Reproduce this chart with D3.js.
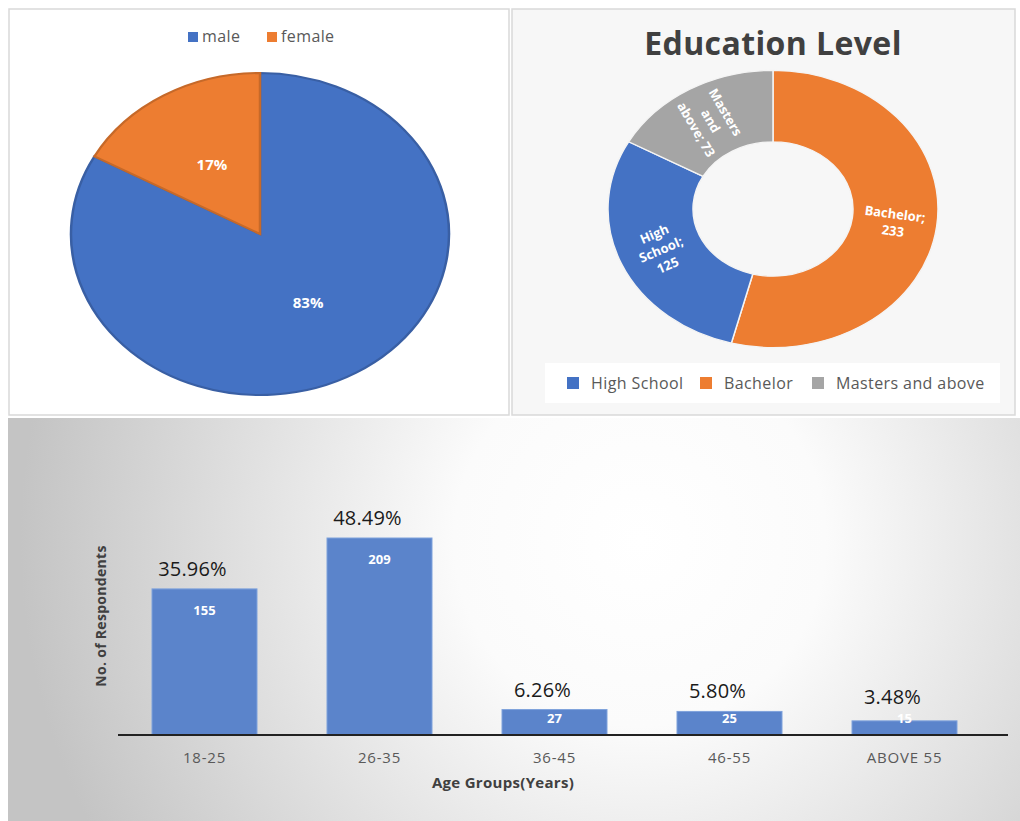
<!DOCTYPE html>
<html>
<head>
<meta charset="utf-8">
<script src="https://cdn.jsdelivr.net/npm/d3@7"></script>
<style>
  body { margin: 0; background: #fff; }
  text { font-family: "Open Sans", "Noto Sans", sans-serif; }
</style>
</head>
<body>
<div id="plot"></div>
<script>
// gender split
var genderLabels = ["male", "female"];
var genderValues = [83, 17];
var genderColors = ["#4472C4", "#ED7D31"];

// education level
var eduLabels = ["High School", "Bachelor", "Masters and above"];
var eduValues = [125, 233, 73];
var eduColors = ["#4472C4", "#ED7D31", "#A5A5A5"];
// clockwise from 12 o'clock as drawn in the source
var eduDrawOrder = [1, 0, 2];

// age groups
var ageGroups = ["18-25", "26-35", "36-45", "46-55", "ABOVE 55"];
var ageCounts = [155, 209, 27, 25, 15];
var agePercents = ["35.96%", "48.49%", "6.26%", "5.80%", "3.48%"];

var svgWidth = 1020;
var svgHeight = 821;

var svg = d3.select("#plot")
  .append("svg")
  .attr("width", svgWidth)
  .attr("height", svgHeight);

var defs = svg.append("defs");
var grad = defs.append("radialGradient")
  .attr("id", "bgGrad")
  .attr("gradientUnits", "userSpaceOnUse")
  .attr("cx", 640).attr("cy", 540).attr("r", 620);
grad.append("stop").attr("offset", "0%").attr("stop-color", "#ffffff");
grad.append("stop").attr("offset", "30%").attr("stop-color", "#fbfbfb");
grad.append("stop").attr("offset", "100%").attr("stop-color", "#c4c4c4");

// panels
svg.append("rect").attr("x", 9).attr("y", 9).attr("width", 500).attr("height", 406)
  .attr("fill", "#fff").attr("stroke", "#d9d9d9").attr("stroke-width", 1.5);
svg.append("rect").attr("x", 512).attr("y", 9).attr("width", 503).attr("height", 406)
  .attr("fill", "#f7f7f7").attr("stroke", "#d9d9d9").attr("stroke-width", 1.5);
svg.append("rect").attr("x", 8).attr("y", 418).attr("width", 1012).attr("height", 403)
  .attr("fill", "url(#bgGrad)");

// ---------- gender pie ----------
var pieR = 189, pieSy = 161 / 189;
var pieG = svg.append("g").attr("transform", "translate(260,234)");

var pie = d3.pie().sort(null);
var genderArcs = pie(genderValues);
var arc = d3.arc().innerRadius(0).outerRadius(pieR);

pieG.append("g").attr("transform", `scale(1,${pieSy})`)
  .selectAll("path")
  .data(genderArcs)
  .enter()
  .append("path")
  .attr("d", arc)
  .attr("fill", (d, i) => genderColors[i])
  .attr("stroke", (d, i) => d3.color(genderColors[i]).darker(0.5))
  .attr("stroke-width", 2.5);

var labelArc = d3.arc().innerRadius(pieR * 0.5).outerRadius(pieR * 0.5);
pieG.selectAll(".plabel")
  .data(genderArcs)
  .enter()
  .append("text")
  .attr("x", d => labelArc.centroid(d)[0])
  .attr("y", d => labelArc.centroid(d)[1] * pieSy + 5)
  .attr("text-anchor", "middle")
  .attr("font-size", "15px")
  .attr("font-weight", "bold")
  .attr("fill", "#fff")
  .text((d, i) => genderValues[i] + "%");

// legend
var gLeg = svg.append("g").attr("transform", "translate(188,37)");
var gLegX = [0, 79];
genderLabels.forEach(function(l, i) {
  gLeg.append("rect").attr("x", gLegX[i]).attr("y", -5).attr("width", 10).attr("height", 10)
    .attr("fill", genderColors[i]);
  gLeg.append("text").attr("x", gLegX[i] + 14).attr("y", 5)
    .attr("font-size", "16px").attr("letter-spacing", "0.4px")
    .attr("fill", "#595959").text(l);
});

// ---------- education donut ----------
var dR = 165, dSy = 0.84;
var donutG = svg.append("g").attr("transform", "translate(773,209)");
var dPie = d3.pie().sort(null).value(i => eduValues[i]);
var eduArcs = dPie(eduDrawOrder);
var dArc = d3.arc().innerRadius(80).outerRadius(dR);

donutG.append("g").attr("transform", `scale(1,${dSy})`)
  .selectAll("path")
  .data(eduArcs)
  .enter()
  .append("path")
  .attr("d", dArc)
  .attr("fill", d => eduColors[d.data])
  .attr("stroke", "#f4f4f4")
  .attr("stroke-width", 1.5);

var eduLabelLines = [["High", "School;", "125"], ["Bachelor;", "233"], ["Masters", "and", "above; 73"]];
var dLabelArc = d3.arc().innerRadius(122).outerRadius(122);
eduArcs.forEach(function(d) {
  var c = dLabelArc.centroid(d);
  var mid = (d.startAngle + d.endAngle) / 2 * 180 / Math.PI;
  var rot = mid < 180 ? mid - 90 : mid - 270;
  var lines = eduLabelLines[d.data];
  var t = donutG.append("text")
    .attr("transform", `translate(${c[0]},${c[1] * dSy}) rotate(${rot})`)
    .attr("text-anchor", "middle")
    .attr("font-size", "13px")
    .attr("font-weight", "bold")
    .attr("fill", "#fff");
  lines.forEach(function(s, j) {
    t.append("tspan").attr("x", 0)
      .attr("y", (j - (lines.length - 1) / 2) * 17 + 5)
      .text(s);
  });
});

svg.append("text").attr("x", 773).attr("y", 55)
  .attr("text-anchor", "middle")
  .attr("font-size", "32px")
  .attr("font-weight", "bold")
  .attr("letter-spacing", "0.4px")
  .attr("fill", "#404040")
  .text("Education Level");

svg.append("rect").attr("x", 545).attr("y", 363).attr("width", 455).attr("height", 40)
  .attr("fill", "#fff");
var eLegX = [567, 700, 812];
eduLabels.forEach(function(l, i) {
  svg.append("rect").attr("x", eLegX[i]).attr("y", 377).attr("width", 12).attr("height", 12)
    .attr("fill", eduColors[i]);
  svg.append("text").attr("x", eLegX[i] + 24).attr("y", 389)
    .attr("font-size", "16px").attr("letter-spacing", "0.4px")
    .attr("fill", "#595959").text(l);
});

// ---------- age bar chart ----------
var baseY = 735;
var xBand = d3.scaleBand()
  .domain(ageGroups)
  .range([117, 992])
  .paddingInner(0.4)
  .paddingOuter(0.2);
var yScale = d3.scaleLinear().domain([0, 209]).range([baseY, 538]);

var barG = svg.append("g");
barG.selectAll("rect")
  .data(ageCounts)
  .enter()
  .append("rect")
  .attr("x", (d, i) => xBand(ageGroups[i]))
  .attr("y", d => yScale(d))
  .attr("width", xBand.bandwidth())
  .attr("height", d => baseY - yScale(d))
  .attr("fill", "#5B84CB")
  .attr("stroke", "#7fa2dc")
  .attr("stroke-width", 1);

barG.selectAll(".val")
  .data(ageCounts)
  .enter()
  .append("text")
  .attr("x", (d, i) => xBand(ageGroups[i]) + xBand.bandwidth() / 2)
  .attr("y", d => Math.min(yScale(d) + 26, 723))
  .attr("text-anchor", "middle")
  .attr("font-size", "13px")
  .attr("font-weight", "bold")
  .attr("fill", "#fff")
  .text(d => d);

barG.selectAll(".pct")
  .data(ageCounts)
  .enter()
  .append("text")
  .attr("x", (d, i) => xBand(ageGroups[i]) + xBand.bandwidth() / 2 - 12)
  .attr("y", d => Math.min(yScale(d) - 13, 704))
  .attr("text-anchor", "middle")
  .attr("font-size", "20px")
  .attr("letter-spacing", "0.2px")
  .attr("fill", "#1a1a1a")
  .text((d, i) => agePercents[i]);

svg.append("line").attr("x1", 118).attr("x2", 1008).attr("y1", baseY).attr("y2", baseY)
  .attr("stroke", "#222").attr("stroke-width", 2);

var xAxis = d3.axisBottom(xBand).tickSize(0).tickPadding(17);
var axG = svg.append("g").attr("transform", `translate(0,${baseY})`).call(xAxis);
axG.select(".domain").remove();
axG.selectAll("text")
  .attr("font-size", "15px")
  .attr("letter-spacing", "0.8px")
  .attr("fill", "#595959")
  .attr("font-family", "'Open Sans', sans-serif");

svg.append("text").attr("x", 503).attr("y", 788)
  .attr("text-anchor", "middle")
  .attr("font-size", "15px")
  .attr("font-weight", "bold")
  .attr("letter-spacing", "0.3px")
  .attr("fill", "#404040")
  .text("Age Groups(Years)");

svg.append("text")
  .attr("transform", "translate(106,616) rotate(-90)")
  .attr("text-anchor", "middle")
  .attr("font-size", "14px")
  .attr("font-weight", "bold")
  .attr("letter-spacing", "0.3px")
  .attr("fill", "#404040")
  .text("No. of Respondents");
</script>
</body>
</html>
